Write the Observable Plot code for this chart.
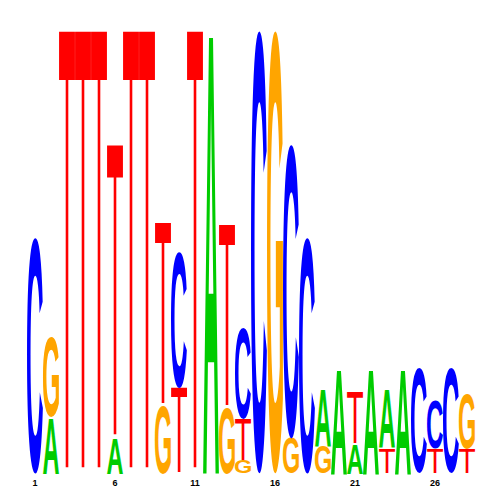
<!DOCTYPE html>
<html>
<head>
<meta charset="utf-8">
<script src="https://cdn.jsdelivr.net/npm/d3@7"></script>
<script src="https://cdn.jsdelivr.net/npm/@observablehq/plot@0.6"></script>
<style>
  html, body { margin: 0; padding: 0; background: #fff; }
</style>
</head>
<body>
<div id="chart"></div>
<script>
// Information content (bits) per position, one array per base
const positions = d3.range(1, 29);
const bitsA = [0, 0.253, 0, 0, 0, 0.158, 0, 0, 0, 0, 0, 2.0, 0, 0, 0, 0, 0, 0, 0.257, 0.474, 0.135, 0.474, 0.262, 0.474, 0, 0, 0, 0];
const bitsC = [1.065, 0, 0, 0, 0, 0, 0, 0, 0, 0.614, 0, 0, 0, 0.411, 2.0, 0, 1.327, 1.065, 0, 0, 0, 0, 0, 0, 0.474, 0.221, 0.474, 0];
const bitsG = [0, 0.361, 0, 0, 0, 0, 0, 0, 0.307, 0, 0, 0, 0.298, 0.059, 0, 2.0, 0.158, 0, 0.126, 0, 0, 0, 0, 0, 0, 0, 0, 0.248];
const bitsT = [0, 0, 2.0, 2.0, 2.0, 1.327, 2.0, 2.0, 0.826, 0.388, 2.0, 0, 0.826, 0.185, 0, 0, 0, 0, 0, 0, 0.235, 0, 0.113, 0, 0, 0.113, 0, 0.113];
const bases = ["A", "C", "G", "T"];
const baseColors = ["#00cc00", "#0000ff", "#ffa500", "#ff0000"];
const tickValues = [1, 6, 11, 16, 21, 26];

// Build stacked letter table (smallest at the bottom)
const series = {A: bitsA, C: bitsC, G: bitsG, T: bitsT};
const letters = [];
positions.forEach((p, i) => {
  const col = bases.map(b => ({base: b, bits: series[b][i]})).filter(d => d.bits > 0)
    .sort((a, b) => a.bits - b.bits);
  let y = 0;
  for (const d of col) {
    letters.push({pos: p, base: d.base, y1: y, y2: y + d.bits});
    y += d.bits;
  }
});

const FONT = "Liberation Sans";
const glyphWeight = {A: "bold", C: "bold", G: "bold", T: "normal"};
const plot = Plot.plot({
  width: 500,
  height: 500,
  marginLeft: 26.5,
  marginRight: 25.5,
  marginTop: 30,
  marginBottom: 27,
  style: {fontFamily: `"${FONT}", Arial, sans-serif`, fontSize: "9px", fontWeight: "bold", background: "#fff", color: "#000"},
  x: {domain: [0.5, 28.5], ticks: tickValues, tickSize: 0, tickPadding: 6, tickFormat: d => String(d), label: null},
  y: {domain: [0, 2], axis: null},
  color: {domain: bases, range: baseColors},
  marks: [
    Plot.rect(letters, {x1: d => d.pos - 0.5, x2: d => d.pos + 0.5, y1: "y1", y2: "y2", inset: 0, fill: "none"}),
    Plot.text(letters, {x: "pos", y: "y1", text: "base", fill: "base", fontSize: 100})
  ]
});
document.getElementById("chart").appendChild(plot);

// Stretch each glyph so its ink fills its box (boxes positioned by Plot's scales)
const ctx = document.createElement("canvas").getContext("2d");
const metrics = {};
for (const b of bases) {
  ctx.font = `${glyphWeight[b]} 100px "${FONT}"`;
  const m = ctx.measureText(b);
  metrics[b] = {l: m.actualBoundingBoxLeft, r: m.actualBoundingBoxRight, a: m.actualBoundingBoxAscent, d: m.actualBoundingBoxDescent};
}
const rects = plot.querySelectorAll('g[aria-label="rect"] rect');
const texts = plot.querySelectorAll('g[aria-label="text"] text');
texts.forEach((t, i) => {
  const r = rects[i];
  if (!r) return;
  const b = t.textContent;
  const x0 = +r.getAttribute("x"), y0 = +r.getAttribute("y");
  const w = +r.getAttribute("width"), h = +r.getAttribute("height");
  const m = metrics[b];
  const sx = w / (m.l + m.r), sy = h / (m.a + m.d);
  ["x", "y", "dx", "dy", "transform"].forEach(a => t.removeAttribute(a));
  t.setAttribute("x", 0);
  t.setAttribute("y", 0);
  t.setAttribute("text-anchor", "start");
  t.setAttribute("font-size", 100);
  t.setAttribute("font-weight", glyphWeight[b]);
  t.setAttribute("font-family", `"${FONT}", Arial, sans-serif`);
  t.setAttribute("transform", `translate(${x0 + m.l * sx},${y0 + m.a * sy}) scale(${sx},${sy})`);
});
</script>
</body>
</html>
